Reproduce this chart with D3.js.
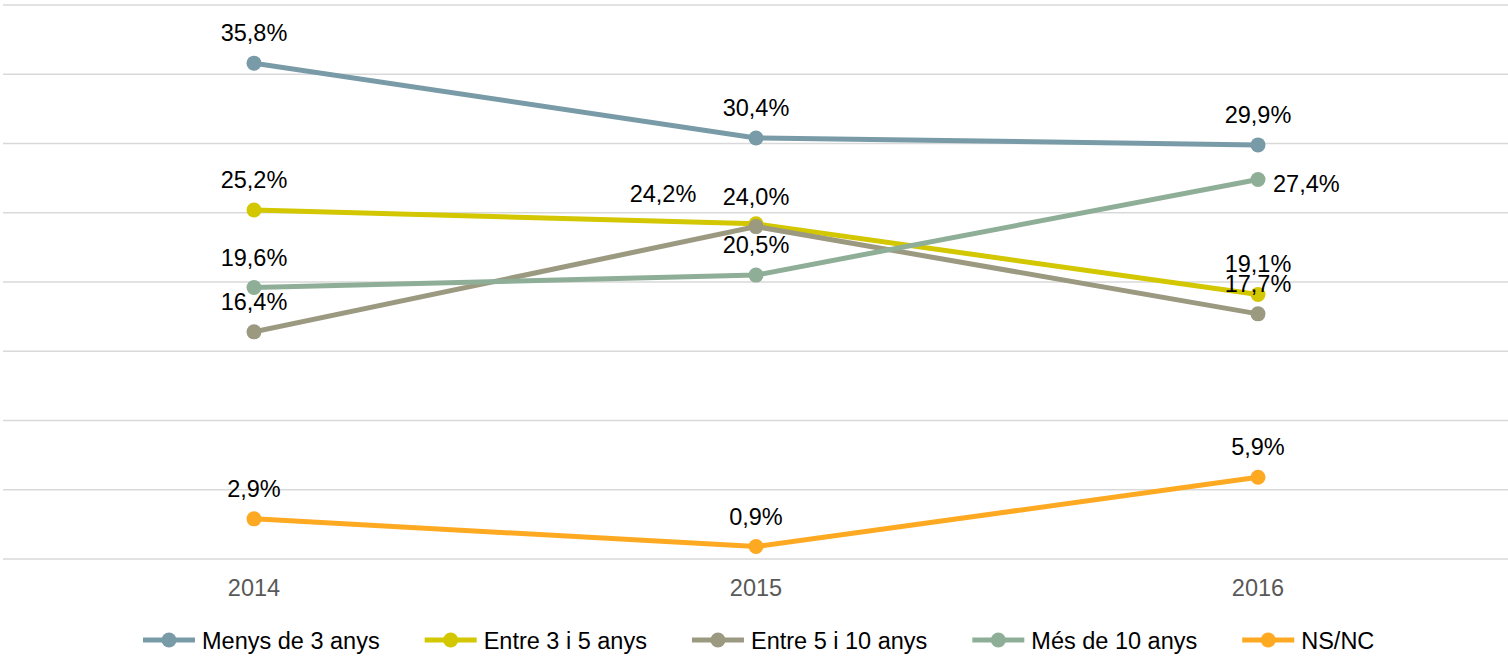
<!DOCTYPE html>
<html>
<head>
<meta charset="utf-8">
<script src="https://cdn.jsdelivr.net/npm/d3@7"></script>
<style>
  body { margin: 0; background: #fff; }
  text { font-family: "Liberation Sans", Arial, sans-serif; }
</style>
</head>
<body>
<svg id="chart"></svg>
<script>
// dades
var years = ["2014", "2015", "2016"];
var seriesNames = ["Menys de 3 anys", "Entre 3 i 5 anys", "Entre 5 i 10 anys", "Més de 10 anys", "NS/NC"];
var menys3 = [35.8, 30.4, 29.9];
var entre3i5 = [25.2, 24.2, 19.1];
var entre5i10 = [16.4, 24.0, 17.7];
var mes10 = [19.6, 20.5, 27.4];
var nsnc = [2.9, 0.9, 5.9];
var colors = ["#789ba7", "#d2c700", "#9b9980", "#8fae98", "#fea922"];
var yTicks = [0, 5, 10, 15, 20, 25, 30, 35, 40];

var allValues = [menys3, entre3i5, entre5i10, mes10, nsnc];

let width = 1508;
let height = 657;
let fontSize = "23.5px";

var svg = d3.select("#chart")
    .attr("width", width)
    .attr("height", height);

var x = d3.scalePoint()
    .domain(years)
    .range([254, 1258]);

var y = d3.scaleLinear()
    .domain([0, 40])
    .range([559, 5]);

// graella
svg.selectAll(".grid")
    .data(yTicks)
    .enter().append("line")
    .attr("x1", 3)
    .attr("x2", width)
    .attr("y1", d => y(d))
    .attr("y2", d => y(d))
    .attr("stroke", "#d9d9d9")
    .attr("stroke-width", 1.5);

// eix x
svg.selectAll(".xlab")
    .data(years)
    .enter().append("text")
    .attr("x", d => x(d))
    .attr("y", 596)
    .attr("text-anchor", "middle")
    .style("font-size", fontSize)
    .style("fill", "#595959")
    .text(d => d);

var line = d3.line()
    .x((d, i) => x(years[i]))
    .y(d => y(d));

var series = seriesNames.map(function (name, i) {
    return { name: name, values: allValues[i], color: colors[i] };
});

series.forEach(function (s) {
    svg.append("path")
        .datum(s.values)
        .attr("d", line)
        .attr("fill", "none")
        .attr("stroke", s.color)
        .attr("stroke-width", 5);
});

series.forEach(function (s) {
    svg.selectAll(null)
        .data(s.values)
        .enter().append("circle")
        .attr("cx", (d, i) => x(years[i]))
        .attr("cy", d => y(d))
        .attr("r", 7.5)
        .attr("fill", s.color);
});

// posicio de les etiquetes (per defecte a sobre)
function labelPos(si, i) {
    if (si == 1 && i == 1) return { dx: -93, dy: -22, anchor: "middle" };
    if (si == 3 && i == 2) return { dx: 15, dy: 12, anchor: "start" };
    return { dx: 0, dy: -22, anchor: "middle" };
}

series.forEach(function (s, si) {
    svg.selectAll(null)
        .data(s.values)
        .enter().append("text")
        .attr("x", (d, i) => x(years[i]) + labelPos(si, i).dx)
        .attr("y", (d, i) => y(d) + labelPos(si, i).dy)
        .attr("text-anchor", (d, i) => labelPos(si, i).anchor)
        .style("font-size", fontSize)
        .style("fill", "#000")
        .text(d => d3.format(".1f")(d).replace(".", ",") + "%");
});

// llegenda
var legendY = 640;
var cursor = 143;
series.forEach(function (s) {
    var g = svg.append("g")
        .attr("transform", "translate(" + cursor + "," + legendY + ")");
    g.append("line")
        .attr("x1", 0)
        .attr("x2", 52)
        .attr("stroke", s.color)
        .attr("stroke-width", 5);
    g.append("circle")
        .attr("cx", 26)
        .attr("r", 7.5)
        .attr("fill", s.color);
    var t = g.append("text")
        .attr("x", 59)
        .attr("y", 8.5)
        .style("font-size", fontSize)
        .style("fill", "#000")
        .text(s.name);
    cursor += 59 + t.node().getComputedTextLength() + 45;
});
</script>
</body>
</html>
